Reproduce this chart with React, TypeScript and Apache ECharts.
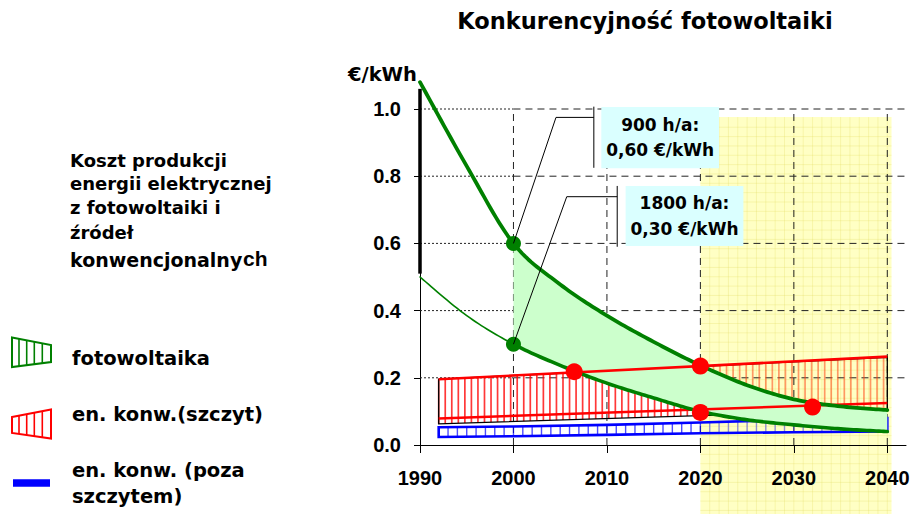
import React, { useEffect, useRef } from 'react';
import * as echarts from 'echarts';

// ---------- data ----------
const xTicks = [1990, 2000, 2010, 2020, 2030, 2040];
const xMin = 1990;
const xMax = 2042;
const yMax = 1.0;

// PV generation cost, 900 h/a (upper) and 1800 h/a (lower)
const pvYearsEarly = [1990, 1995, 2000];
const pvHighEarly = [1.08, 0.83, 0.6];
const pvLowEarly = [0.5, 0.385, 0.3];
const pvYears = [2000, 2005, 2010, 2015, 2020, 2025, 2030, 2035, 2040];
const pvHigh = [0.6, 0.478, 0.385, 0.307, 0.237, 0.178, 0.136, 0.115, 0.104];
const pvLow = [0.3, 0.237, 0.184, 0.14, 0.1, 0.075, 0.06, 0.048, 0.04];

// PV cost range in 1990
const pvRangeYear = 1990;
const pvRange = [0.51, 1.06];

// conventional energy, peak
const peakYears = [1992, 2040];
const peakHigh = [0.1955, 0.263];
const peakLow = [0.079, 0.125];
const peakBandTop = [0.196, 0.261];
const peakBandBottom = [0.063, 0.105];

// conventional energy, off-peak
const baseYears = [1992, 2000, 2010, 2020, 2030, 2040];
const baseTop = [0.053, 0.055, 0.06, 0.067, 0.075, 0.08];
const baseBottom = [0.024, 0.026, 0.03, 0.035, 0.038, 0.04];

const greenDots = [[2000, 0.6], [2000, 0.3]];
const redDots = [[2006.5, 0.218], [2020, 0.235], [2020, 0.097], [2032, 0.113]];

const futureSpan = [2020, 2040.45];
const futureTop = 0.976;

const calloutText = [['900 h/a:', '0,60 €/kWh'], ['1800 h/a:', '0,30 €/kWh']];
const calloutLeader = [
  [[2000, 0.6], [2004.55, 0.975], [2008.6, 0.975]],
  [[2000, 0.3], [2005.7, 0.739], [2011.1, 0.739]],
];
const calloutBracket = [
  [[2008.6, 1.007], [2008.6, 0.825]],
  [[2011.1, 0.771], [2011.1, 0.59]],
];
const calloutBox = [
  [2009.4, 1.006, 2022.0, 0.824],
  [2012.0, 0.771, 2024.6, 0.592],
];

const titleText = 'Konkurencyjność fotowoltaiki';
const unitText = '€/kWh';
const descLines = ['Koszt produkcji', 'energii elektrycznej', 'z fotowoltaiki i', 'źródeł'];
const descLast = ['konwencjonalny', 'ch'];
const legendLabels = ['fotowoltaika', 'en. konw.(szczyt)', 'en. konw. (poza', 'szczytem)'];

// ---------- styles ----------
const DJ = '"DejaVu Sans", sans-serif';
const LB = '"Liberation Sans", Arial, sans-serif';
const GREEN = '#008000';
const GREEN_FILL = '#ccffcc';
const RED = '#ff0000';
const BLUE = '#0000ff';
const SEG = 16;

const zip = (xs: number[], ys: number[]) => xs.map((x, i) => [x, ys[i]]);

function interp(pts: number[][], x: number) {
  for (let i = 0; i < pts.length - 1; i++) {
    const [x0, y0] = pts[i];
    const [x1, y1] = pts[i + 1];
    if (x >= x0 - 0.01 && x <= x1 + 0.01) {
      return y0 + ((y1 - y0) * (x - x0)) / (x1 - x0 || 1);
    }
  }
  return pts[pts.length - 1][1];
}

// Catmull-Rom smoothing of pixel points (rendering only)
function smoothPts(pts: number[][], n = SEG) {
  const out: number[][] = [];
  const f = (a: number, b: number, c: number, d: number, t: number) => {
    const t2 = t * t;
    const t3 = t2 * t;
    return 0.5 * (2 * b + (-a + c) * t + (2 * a - 5 * b + 4 * c - d) * t2 + (-a + 3 * b - 3 * c + d) * t3);
  };
  for (let i = 0; i < pts.length - 1; i++) {
    const p0 = pts[Math.max(0, i - 1)];
    const p1 = pts[i];
    const p2 = pts[i + 1];
    const p3 = pts[Math.min(pts.length - 1, i + 2)];
    for (let k = 0; k < n; k++) {
      const t = k / n;
      out.push([f(p0[0], p1[0], p2[0], p3[0], t), f(p0[1], p1[1], p2[1], p3[1], t)]);
    }
  }
  out.push(pts[pts.length - 1]);
  return out;
}

const pvAllYears = [...pvYearsEarly.slice(0, -1), ...pvYears];
const pvAllHigh = [...pvHighEarly.slice(0, -1), ...pvHigh];
const pvAllLow = [...pvLowEarly.slice(0, -1), ...pvLow];
const splitIdx = (pvYearsEarly.length - 1) * SEG;

function bandElements(
  api: any,
  years: number[],
  top: number[],
  bottom: number[],
  step: number,
  hatchColor: string,
  hatchColorFuture: string,
  hatchWidth: number,
  edgeColor: string,
  edgeWidth: number
) {
  const tp = years.map((yr, i) => api.coord([yr, top[i]]));
  const bp = years.map((yr, i) => api.coord([yr, bottom[i]]));
  const futurePx = api.coord([futureSpan[0], 0])[0];
  const els: any[] = [];
  const last = years[years.length - 1];
  for (let yr = years[0]; yr <= last + 1e-6; yr += step) {
    const px = api.coord([yr, 0])[0];
    els.push({
      type: 'line',
      shape: { x1: px, y1: interp(tp, px), x2: px, y2: interp(bp, px) },
      style: { stroke: px > futurePx + 1 ? hatchColorFuture : hatchColor, lineWidth: hatchWidth, fill: 'none' },
    });
  }
  els.push({
    type: 'polygon',
    shape: { points: [...tp, ...bp.slice().reverse()] },
    style: { fill: 'none', stroke: edgeColor, lineWidth: edgeWidth },
  });
  return els;
}

const layer = (name: string, z: number, render: (api: any) => any[]) => ({
  type: 'custom',
  name,
  z,
  silent: true,
  clip: false,
  animation: false,
  data: [[xMin, 0]],
  renderItem: (_p: any, api: any) => ({ type: 'group', children: render(api) }),
});

const line = (name: string, data: number[][], color: string, width: number, z: number, extra: any = {}) => ({
  type: 'line',
  name,
  data,
  symbol: 'none',
  showSymbol: false,
  silent: true,
  clip: false,
  animation: false,
  z,
  lineStyle: { color, width },
  ...extra,
});

function buildOption() {
  const series: any[] = [];

  // "future" zone (under everything)
  series.push(
    layer('future', -1, (api) => {
      const a = api.coord([futureSpan[0], futureTop]);
      const b = api.coord([futureSpan[1], 0]);
      const h = api.getHeight();
      const ch: any[] = [
        {
          type: 'rect',
          shape: { x: a[0], y: a[1], width: b[0] - a[0], height: h - a[1] },
          style: { fill: '#ffffc4' },
        },
      ];
      const stepPx = api.coord([2021, 0])[0] - api.coord([2020, 0])[0];
      const gs = { stroke: 'rgba(225,215,90,0.26)', lineWidth: 1, fill: 'none' };
      for (let x = a[0] + stepPx; x < b[0] - 1; x += stepPx) {
        ch.push({ type: 'line', shape: { x1: x, y1: a[1], x2: x, y2: h }, style: gs });
      }
      for (let y = b[1] - stepPx; y > a[1] + 1; y -= stepPx) {
        ch.push({ type: 'line', shape: { x1: a[0], y1: y, x2: b[0], y2: y }, style: gs });
      }
      for (let y = b[1] + stepPx; y < h; y += stepPx) {
        ch.push({ type: 'line', shape: { x1: a[0], y1: y, x2: b[0], y2: y }, style: gs });
      }
      return ch;
    })
  );

  // gridlines
  series.push(
    layer('grid', 1, (api) => {
      const ch: any[] = [];
      xTicks.slice(1).forEach((x) => {
        const a = api.coord([x, 0]);
        const b = api.coord([x, yMax]);
        ch.push({
          type: 'line',
          shape: { x1: a[0], y1: a[1], x2: b[0], y2: b[1] },
          style: { stroke: '#222', lineWidth: 1, lineDash: [7, 5], fill: 'none' },
        });
      });
      [0.2, 0.4, 0.6, 0.8, 1.0].forEach((y) => {
        const a = api.coord([xMin, y]);
        const m = api.coord([xTicks[1], y]);
        const b = api.coord([xMax, y]);
        ch.push({
          type: 'line',
          shape: { x1: a[0], y1: a[1], x2: m[0], y2: m[1] },
          style: { stroke: '#222', lineWidth: 1, lineDash: [2, 2], fill: 'none' },
        });
        ch.push({
          type: 'line',
          shape: { x1: m[0], y1: m[1], x2: b[0], y2: b[1] },
          style: { stroke: '#222', lineWidth: 1, lineDash: [7, 5], fill: 'none' },
        });
      });
      return ch;
    })
  );

  // off-peak band (blue)
  series.push(
    layer('en. konw. (poza szczytem)', 2, (api) =>
      bandElements(api, baseYears, baseTop, baseBottom, 1, 'rgba(0,0,255,0.7)', 'rgba(40,40,255,0.5)', 1.4, BLUE, 2.6)
    )
  );
  // peak band (red hatch)
  series.push(
    layer('en. konw.(szczyt)', 2, (api) =>
      bandElements(
        api,
        peakYears,
        peakBandTop,
        peakBandBottom,
        0.7,
        'rgba(255,0,0,0.78)',
        'rgba(255,70,20,0.55)',
        1.7,
        '#000',
        1.3
      )
    )
  );

  // PV fill between curves and PV curves
  const pvPixels = (api: any) => {
    const hi = smoothPts(pvAllYears.map((yr, i) => api.coord([yr, pvAllHigh[i]])));
    const lo = smoothPts(pvAllYears.map((yr, i) => api.coord([yr, pvAllLow[i]])));
    return { hi, lo };
  };
  series.push(
    layer('fotowoltaika', 3, (api) => {
      const { hi, lo } = pvPixels(api);
      return [
        {
          type: 'polygon',
          shape: { points: [...hi.slice(splitIdx), ...lo.slice(splitIdx).reverse()] },
          style: { fill: GREEN_FILL, stroke: 'none' },
        },
      ];
    })
  );

  // conventional peak lines
  series.push(line('peakHigh', zip(peakYears, peakHigh), RED, 2.6, 5));
  series.push(line('peakLow', zip(peakYears, peakLow), RED, 2.6, 5));

  series.push(
    layer('pvCurves', 6, (api) => {
      const { hi, lo } = pvPixels(api);
      const st = (w: number) => ({ stroke: GREEN, lineWidth: w, fill: 'none', lineJoin: 'round', lineCap: 'round' });
      return [
        { type: 'polyline', shape: { points: hi }, style: st(3.8) },
        { type: 'polyline', shape: { points: lo.slice(0, splitIdx + 1) }, style: st(1.6) },
        { type: 'polyline', shape: { points: lo.slice(splitIdx) }, style: st(3.6) },
      ];
    })
  );

  // PV range bar 1990
  series.push(line('pvRange', pvRange.map((v) => [pvRangeYear, v]), '#000', 3.5, 6));

  // dots
  series.push({
    type: 'scatter',
    name: 'greenDots',
    data: greenDots,
    symbolSize: 15,
    itemStyle: { color: GREEN, opacity: 1 },
    z: 7,
    silent: true,
    clip: false,
    animation: false,
  });
  series.push({
    type: 'scatter',
    name: 'redDots',
    data: redDots,
    symbolSize: 17,
    itemStyle: { color: RED, opacity: 1 },
    z: 7,
    silent: true,
    clip: false,
    animation: false,
  });

  // callout leader lines & brackets
  calloutLeader.forEach((pts, i) => series.push(line('leader' + i, pts, '#000', 1, 8)));
  calloutBracket.forEach((pts, i) => series.push(line('bracket' + i, pts, '#000', 1, 8)));

  // callout boxes
  series.push(
    layer('boxes', 9, (api) =>
      calloutBox.map((bx, i) => {
        const a = api.coord([bx[0], bx[1]]);
        const b = api.coord([bx[2], bx[3]]);
        const cx = (a[0] + b[0]) / 2;
        const cy = (a[1] + b[1]) / 2;
        return {
          type: 'group',
          children: [
            {
              type: 'rect',
              shape: { x: a[0], y: a[1], width: b[0] - a[0], height: b[1] - a[1] },
              style: { fill: '#daffff' },
            },
            ...calloutText[i].map((t, j) => ({
              type: 'text',
              x: cx,
              y: cy + (j === 0 ? -12.8 : 12.8),
              style: {
                text: t,
                fill: '#000',
                fontSize: 17,
                fontWeight: 'bold',
                fontFamily: DJ,
                align: 'center',
                verticalAlign: 'middle',
              },
            })),
          ],
        };
      })
    )
  );

  // ---------- left description & legend ----------
  const descY = [160.5, 183.8, 207.8, 232.3];
  const textStyle = (size: number, font = DJ) => ({
    fill: '#000',
    fontSize: size,
    fontWeight: 'bold',
    fontFamily: font,
    align: 'left',
    verticalAlign: 'middle',
  });
  const graphic: any[] = [];
  descLines.forEach((t, i) =>
    graphic.push({ type: 'text', x: 70, y: descY[i], style: { text: t, ...textStyle(18) } })
  );
  graphic.push({ type: 'text', x: 70, y: 259.5, style: { text: descLast[0], ...textStyle(19) } });
  graphic.push({ type: 'text', x: 243, y: 258.8, style: { text: descLast[1], ...textStyle(21, LB) } });

  const legendY = [358.3, 414.3, 470, 496];
  legendLabels.forEach((t, i) =>
    graphic.push({ type: 'text', x: 72, y: legendY[i], style: { text: t, ...textStyle(19.5) } })
  );

  const icon = (pts: number[][], color: string) => {
    const els: any[] = [
      { type: 'polygon', shape: { points: pts }, style: { fill: 'none', stroke: color, lineWidth: 2 } },
    ];
    const topPts = [pts[0], pts[1]];
    const botPts = [pts[3], pts[2]];
    [19, 26.7, 34.3, 42.3].forEach((x) => {
      els.push({
        type: 'line',
        shape: { x1: x, y1: interp(topPts, x), x2: x, y2: interp(botPts, x) },
        style: { stroke: color, lineWidth: 1.6, fill: 'none' },
      });
    });
    return { type: 'group', children: els };
  };
  graphic.push(icon([[12, 337.5], [51, 345], [51, 362], [12, 367]], GREEN));
  graphic.push(icon([[12, 417], [51, 409.5], [51, 438.5], [12, 433]], RED));
  graphic.push({
    type: 'rect',
    shape: { x: 13, y: 479.3, width: 37, height: 7.4 },
    style: { fill: BLUE },
  });

  return {
    animation: false,
    backgroundColor: '#ffffff',
    title: {
      text: titleText,
      left: 645,
      top: 9,
      padding: 0,
      textAlign: 'center',
      textStyle: { fontFamily: DJ, fontWeight: 'bold', fontSize: 22.5, color: '#000' },
    },
    grid: { left: 420, right: 9, top: 109, bottom: 69, containLabel: false, outerBoundsMode: 'none' },
    xAxis: {
      type: 'value',
      min: xMin,
      max: xMax,
      interval: 10,
      axisLine: { show: true, lineStyle: { color: '#000', width: 1 } },
      axisTick: { show: true, length: 8, inside: false, lineStyle: { color: '#000' }, customValues: xTicks },
      axisLabel: {
        show: true,
        customValues: xTicks,
        margin: 23,
        color: '#000',
        fontFamily: LB,
        fontWeight: 'bold',
        fontSize: 20,
        formatter: (v: number) => String(v),
      },
      splitLine: { show: false },
    },
    yAxis: {
      type: 'value',
      min: 0,
      max: yMax,
      interval: 0.2,
      name: unitText,
      nameLocation: 'end',
      nameGap: 35,
      nameTextStyle: {
        fontFamily: DJ,
        fontWeight: 'bold',
        fontSize: 19.5,
        color: '#000',
        align: 'right',
        verticalAlign: 'middle',
        padding: [0, 3, 0, 0],
      },
      axisLine: { show: true, lineStyle: { color: '#000', width: 1 } },
      axisTick: { show: true, length: 6, inside: false, lineStyle: { color: '#000' } },
      axisLabel: {
        show: true,
        margin: 19,
        color: '#000',
        fontFamily: LB,
        fontWeight: 'bold',
        fontSize: 20,
        formatter: (v: number) => v.toFixed(1),
      },
      splitLine: { show: false },
    },
    series,
    graphic,
  };
}

export default function App() {
  const ref = useRef<HTMLDivElement>(null);
  useEffect(() => {
    const el = ref.current;
    if (!el) return;
    const chart = echarts.init(el, undefined, { renderer: 'svg' });
    chart.setOption(buildOption() as any);
    return () => chart.dispose();
  }, []);
  return (
    <div
      ref={ref}
      style={{ position: 'fixed', left: 0, top: 0, width: 915, height: 514, background: '#fff' }}
    />
  );
}
